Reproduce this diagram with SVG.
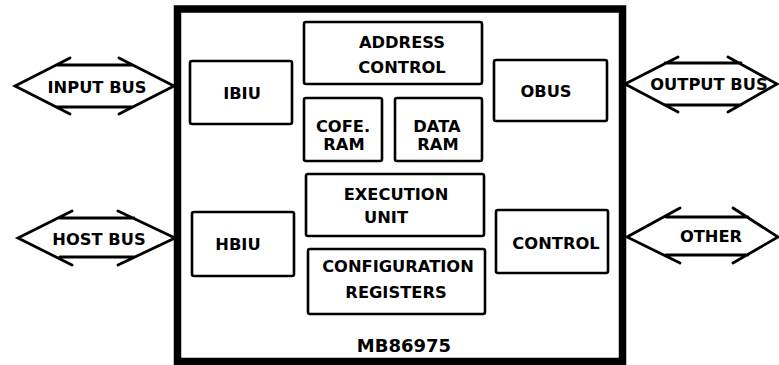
<svg xmlns="http://www.w3.org/2000/svg" width="779" height="365" viewBox="0 0 779 365">
<style>
.box{fill:#fff;stroke:#000;stroke-width:2.6}
.chip{fill:none;stroke:#000;stroke-width:7.5}
.bus{fill:none;stroke:#000;stroke-width:2.8;stroke-linecap:round;stroke-linejoin:miter}
text{font-family:"DejaVu Sans","Liberation Sans",sans-serif;font-weight:bold;font-size:16.3px;fill:#000;text-anchor:middle}
.big{font-size:18px}
</style>
<rect width="779" height="365" fill="#fff"/>
<g id="chip">
<rect class="chip" x="177.5" y="9" width="445" height="352.5"/>
<text class="big" x="404" y="352">MB86975</text>
</g>
<g id="ibiu"><rect class="box" x="190" y="61" width="102" height="63" rx="2"/><text x="242" y="99">IBIU</text></g>
<g id="address-control"><rect class="box" x="304" y="22" width="178" height="62" rx="2"/><text x="402" y="48">ADDRESS</text><text x="402" y="73">CONTROL</text></g>
<g id="cofe-ram"><rect class="box" x="304" y="98" width="78" height="63" rx="2"/><text x="343" y="132">COFE.</text><text x="344" y="150">RAM</text></g>
<g id="data-ram"><rect class="box" x="395" y="98" width="87" height="63" rx="2"/><text x="437" y="132">DATA</text><text x="438" y="150">RAM</text></g>
<g id="obus"><rect class="box" x="494" y="60" width="113" height="61" rx="2"/><text x="546" y="97">OBUS</text></g>
<g id="execution-unit"><rect class="box" x="306" y="174" width="178" height="62" rx="2"/><text x="396" y="200">EXECUTION</text><text x="386" y="223">UNIT</text></g>
<g id="hbiu"><rect class="box" x="192" y="212" width="102" height="64" rx="2"/><text x="238" y="250">HBIU</text></g>
<g id="configuration-registers"><rect class="box" x="308" y="249" width="177" height="65" rx="2"/><text x="398" y="272">CONFIGURATION</text><text x="396" y="298">REGISTERS</text></g>
<g id="control"><rect class="box" x="496" y="210" width="112" height="63" rx="2"/><text x="556" y="249">CONTROL</text></g>
<g id="connectors">
<g id="input-bus">
<path class="bus" d="M70,58 L15,86 L70,114 M119,58 L174,86 L119,114 M57,65 H132 M57,107 H132"/>
<text x="97" y="93">INPUT BUS</text>
</g>
<g id="host-bus">
<path class="bus" d="M72,211 L18,238 L72,265 M118,211 L175,238 L118,265 M60,218 H134 M60,257 H134"/>
<text x="99" y="245">HOST BUS</text>
</g>
<g id="output-bus">
<path class="bus" d="M678,57 L625,84 L678,112 M728,57 L777,84 L728,112 M665,63 H741 M665,105 H741"/>
<text x="709" y="90">OUTPUT BUS</text>
</g>
<g id="other">
<path class="bus" d="M680,208 L627,237 L680,263 M733,208 L778,237 L733,263 M666,217 H748 M666,255 H748"/>
<text x="711" y="242">OTHER</text>
</g>
</g>
</svg>
